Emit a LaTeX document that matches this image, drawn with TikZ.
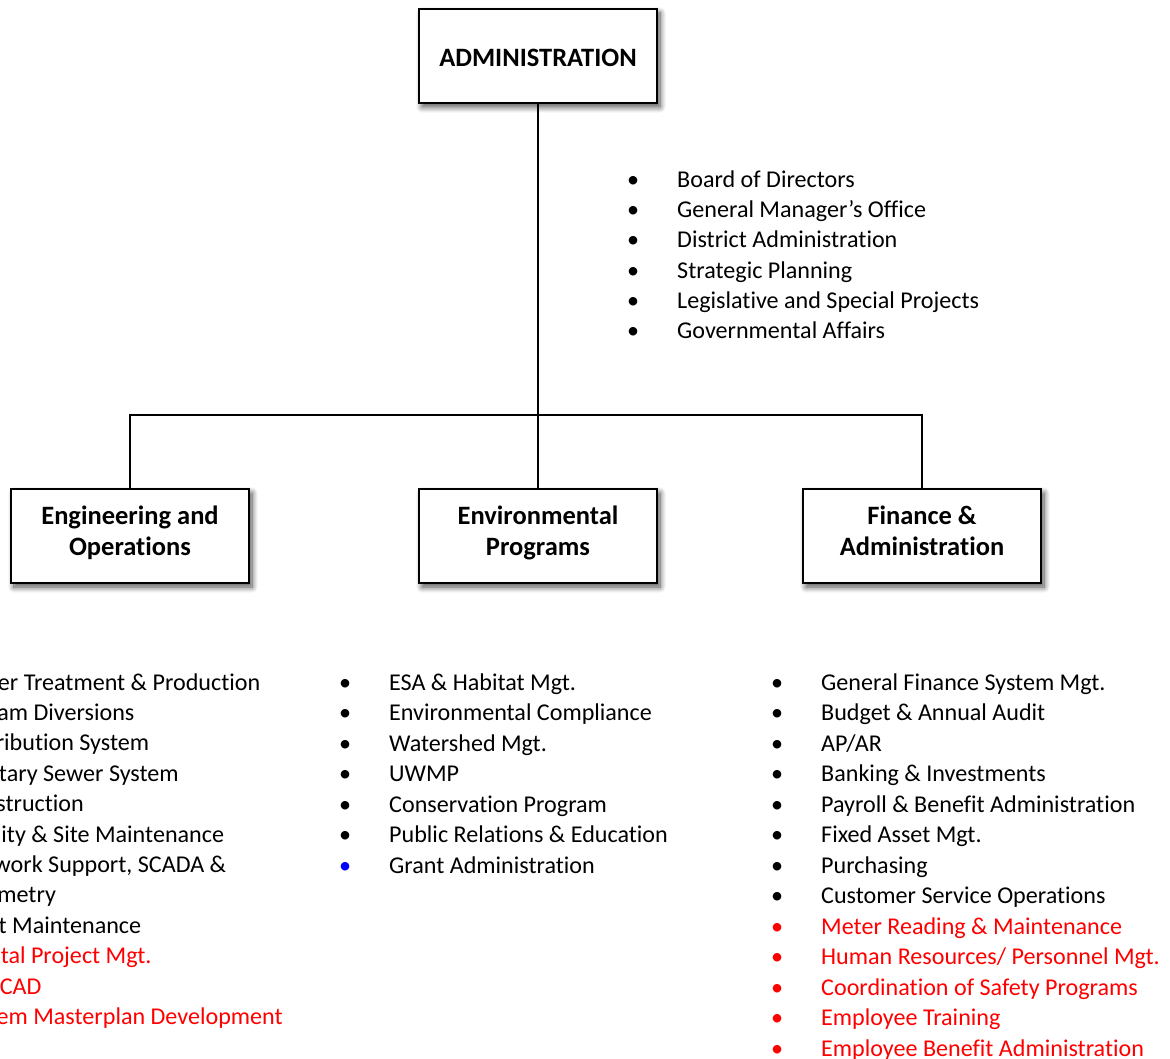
\documentclass[tikz,border=0pt]{standalone}
\usepackage{fontspec}
\setmainfont[Ligatures=NoCommon]{Carlito}
\usetikzlibrary{shadows.blur}

\tikzset{
  unitbox/.style={draw, line width=2pt, fill=white, minimum width=238pt,
    minimum height=94pt, align=center, inner sep=0pt,
    font=\fontsize{26.5}{31}\selectfont\bfseries,
    blur shadow={shadow xshift=3pt, shadow yshift=-4pt,
      shadow blur radius=6pt, shadow blur steps=10, shadow opacity=70}},
  pairbox/.style={unitbox, text depth=11pt},
  link/.style={line width=1.5pt},
  entry/.style={anchor=base west, inner sep=0pt,
    font=\fontsize{24.1}{30.4}\selectfont},
  dot/.style={anchor=base, inner sep=0pt,
    font=\fontsize{24.1}{30.4}\selectfont},
}

\begin{document}
\begin{tikzpicture}[x=1pt, y=-1pt]
  \useasboundingbox (0,0) rectangle (1170,1059);
  \clip (0,0) rectangle (1170,1059);

  % units
  \node[unitbox, text height=20.7pt, text depth=0pt] (admin) at (538,56)
    {ADMINISTRATION};
  \node[pairbox] (eng) at (130,536) {Engineering and\\Operations};
  \node[pairbox] (env) at (538,536) {Environmental\\Programs};
  \node[pairbox] (fin) at (922,536) {Finance \&\\Administration};

  % reporting lines
  \coordinate (junction) at (538,415);
  \draw[link] (admin.south) -- (env.north);
  \draw[link] (eng.north) |- (junction) -| (fin.north);

  % administration duties
  \foreach \t [count=\i from 0] in {Board of Directors, General Manager’s Office,
      District Administration, Strategic Planning,
      Legislative and Special Projects, Governmental Affairs} {
    \node[dot]   (adm-b\i) at (633,187.5+30.2*\i) {•};
    \node[entry] (adm-t\i) at (677,187.5+30.2*\i) {\t};
  }

  % engineering and operations duties
  \foreach \t/\c [count=\i from 0] in {{Water Treatment \& Production}/black,
      {Stream Diversions}/black, {Distribution System}/black,
      {Sanitary Sewer System}/black, {Construction}/black,
      {Facility \& Site Maintenance}/black,
      {Network Support, SCADA \&}/black} {
    \node[dot, text=\c]   (eng-b\i) at (-86,690+30.4*\i) {•};
    \node[entry, text=\c] (eng-t\i) at (-42,690+30.4*\i) {\t};
  }
  \node[entry] (eng-t6b) at (-42,690+30.4*7) {Telemetry};
  \foreach \t/\c [count=\i from 8] in {{Fleet Maintenance}/black,
      {Capital Project Mgt.}/red, {GIS/CAD}/red,
      {System Masterplan Development}/red} {
    \node[dot, text=\c]   (eng-b\i) at (-86,690+30.4*\i) {•};
    \node[entry, text=\c] (eng-t\i) at (-42,690+30.4*\i) {\t};
  }

  % environmental programs duties
  \foreach \t/\c [count=\i from 0] in {{ESA \& Habitat Mgt.}/black,
      {Environmental Compliance}/black, {Watershed Mgt.}/black, {UWMP}/black,
      {Conservation Program}/black, {Public Relations \& Education}/black,
      {Grant Administration}/blue} {
    \node[dot, text=\c] (env-b\i) at (345,690+30.5*\i) {•};
    \node[entry]        (env-t\i) at (389,690+30.5*\i) {\t};
  }

  % finance and administration duties
  \foreach \t/\c [count=\i from 0] in {{General Finance System Mgt.}/black,
      {Budget \& Annual Audit}/black, {AP/AR}/black,
      {Banking \& Investments}/black, {Payroll \& Benefit Administration}/black,
      {Fixed Asset Mgt.}/black, {Purchasing}/black,
      {Customer Service Operations}/black,
      {Meter Reading \& Maintenance}/red,
      {Human Resources/ Personnel Mgt.}/red,
      {Coordination of Safety Programs}/red, {Employee Training}/red,
      {Employee Benefit Administration}/red} {
    \node[dot, text=\c]   (fin-b\i) at (777,690+30.5*\i) {•};
    \node[entry, text=\c] (fin-t\i) at (821,690+30.5*\i) {\t};
  }
\end{tikzpicture}
\end{document}
